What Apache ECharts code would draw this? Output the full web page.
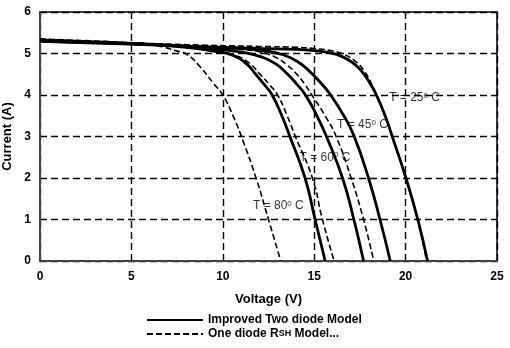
<!DOCTYPE html>
<html>
<head>
<meta charset="utf-8">
<script src="https://cdn.jsdelivr.net/npm/echarts@6/dist/echarts.min.js"></script>
<style>
  html, body { margin: 0; padding: 0; background: #fff; }
  #chart { width: 510px; height: 348px; }
</style>
</head>
<body>
<div id="chart"></div>
<script>
// axis ticks
var xTicks = [0, 5, 10, 15, 20, 25];
var yTicks = [0, 1, 2, 3, 4, 5, 6];

// Improved two diode model [voltage, current]
var two25 = [[0,5.29],[3,5.25],[6,5.21],[9,5.16],[12,5.12],[14,5.1],[15,5.07],[15.8,5.02],[16.5,4.93],[17.1,4.78],[17.6,4.57],[18.0,4.32],[18.4,4.0],[18.88,3.5],[19.27,3.0],[20.02,2.0],[20.67,1.0],[21.2,0]];
var two45 = [[0,5.30],[3,5.26],[6,5.22],[9,5.16],[11,5.12],[12.3,5.06],[13.3,4.97],[14.1,4.8],[14.8,4.55],[15.4,4.27],[15.9,4.0],[16.62,3.5],[17.19,3.0],[17.97,2.0],[18.6,1.0],[19.16,0]];
var two60 = [[0,5.32],[3,5.27],[6,5.22],[8,5.17],[10,5.09],[11.2,5.02],[12.1,4.92],[12.9,4.75],[13.55,4.5],[14.07,4.25],[14.52,4.0],[15.15,3.5],[15.67,3.0],[16.55,2.0],[17.17,1.0],[17.7,0]];
var two80 = [[0,5.33],[3,5.28],[6,5.22],[8,5.15],[9.5,5.06],[10.6,4.95],[11.3,4.75],[11.8,4.5],[12.27,4.25],[12.7,4.0],[13.23,3.5],[13.67,3.0],[14.5,2.0],[15.05,1.0],[15.6,0]];

// One diode Rsh model [voltage, current]
var one25 = [[0,5.31],[3,5.27],[6,5.24],[9,5.2],[12,5.17],[14,5.15],[15,5.12],[15.9,5.07],[16.6,4.98],[17.2,4.83],[17.7,4.6],[18.1,4.3],[18.42,4.0],[18.88,3.5],[19.26,3.0],[20.0,2.0],[20.65,1.0],[21.15,0]];
var one45 = [[0,5.31],[3,5.27],[6,5.23],[9,5.17],[11,5.1],[12,5.04],[12.8,4.93],[13.5,4.73],[14.05,4.5],[14.5,4.25],[14.87,4.0],[15.6,3.5],[16.2,3.0],[17.02,2.0],[17.7,1.0],[18.26,0]];
var one60 = [[0,5.33],[3,5.28],[6,5.22],[8,5.15],[9.5,5.06],[10.7,4.95],[11.5,4.75],[12.04,4.5],[12.55,4.25],[13.0,4.0],[13.52,3.5],[13.97,3.0],[14.9,2.0],[15.45,1.0],[16.09,0]];
var one80 = [[0,5.35],[3,5.3],[5,5.26],[6,5.22],[6.8,5.15],[7.4,5.07],[8.03,4.98],[8.76,4.68],[9.49,4.28],[10.0,4.0],[10.58,3.48],[11.1,2.9],[11.82,2.0],[12.5,1.0],[13.17,0]];

// temperature labels
var labelTemps = ['25', '45', '60', '80'];
var labelV = [19.1, 16.25, 14.2, 11.65];
var labelI = [3.93, 3.28, 2.5, 1.33];

var nameTwo = 'Improved Two diode Model';
var nameOne = 'One diode RSH Model...';

var chart = echarts.init(document.getElementById('chart'));

function solid(d) {
    return {
        name: nameTwo, type: 'line', data: d, smooth: 0.5,
        symbol: 'none', showSymbol: false, z: 3,
        lineStyle: { color: '#000', width: 2.8, type: 'solid' },
        itemStyle: { color: '#000' }
    };
}
function dashed(d) {
    return {
        name: nameOne, type: 'line', data: d, smooth: 0.5,
        symbol: 'none', showSymbol: false, z: 4,
        lineStyle: { color: '#000', width: 1.6, type: [6, 3] },
        itemStyle: { color: '#000' }
    };
}

var labelData = [];
labelTemps.forEach(function (t, i) {
    labelData.push({ value: [labelV[i], labelI[i]], name: t });
});

chart.setOption({
    backgroundColor: '#fff',
    animation: false,
    textStyle: { fontFamily: 'Liberation Sans' },
    grid: {
        left: 40, right: 13, top: 12, bottom: 87,
        containLabel: false, outerBoundsMode: 'none',
        show: true, borderColor: '#000', borderWidth: 1.5
    },
    legend: {
        data: [nameTwo, nameOne],
        orient: 'vertical',
        left: 146, top: 314, padding: 0,
        itemWidth: 56, itemHeight: 10, itemGap: 2,
        itemStyle: { opacity: 0 },
        textStyle: {
            color: '#000', fontSize: 12, fontWeight: 'bold', fontFamily: 'Liberation Sans',
            rich: { s: { fontSize: 9, fontWeight: 'bold', color: '#000', fontFamily: 'Liberation Sans' } }
        },
        formatter: function (n) {
            if (n === nameOne) return 'One diode R{s|SH} Model...';
            return n;
        }
    },
    xAxis: {
        type: 'value', min: 0, max: 25, interval: 5,
        name: 'Voltage (V)', nameLocation: 'middle', nameGap: 32,
        nameTextStyle: { color: '#000', fontSize: 13, fontWeight: 'bold' },
        axisLine: { show: true, lineStyle: { color: '#444', width: 2 } },
        axisTick: { show: false },
        axisLabel: { color: '#000', fontSize: 12, fontWeight: 'bold', margin: 10 },
        splitLine: { show: true, lineStyle: { color: '#000', width: 1.4, type: [7, 4] } }
    },
    yAxis: {
        type: 'value', min: 0, max: 6, interval: 1,
        name: 'Current (A)', nameLocation: 'middle', nameGap: 26,
        nameTextStyle: { color: '#000', fontSize: 13, fontWeight: 'bold' },
        axisLine: { show: true, lineStyle: { color: '#444', width: 2 } },
        axisTick: { show: false },
        axisLabel: { color: '#000', fontSize: 12, fontWeight: 'bold', margin: 9 },
        splitLine: { show: true, lineStyle: { color: '#000', width: 1.4, type: [7, 4] } }
    },
    series: [
        solid(two25), solid(two45), solid(two60), solid(two80),
        dashed(one25), dashed(one45), dashed(one60), dashed(one80),
        {
            name: 'labels', type: 'scatter', data: labelData,
            symbolSize: 0, z: 6, silent: true,
            label: {
                show: true, position: 'right', distance: 0,
                color: '#000', fontSize: 12, fontFamily: 'Liberation Sans',
                formatter: function (p) { return 'T = ' + p.name + '{sup|0} C'; },
                rich: {
                    sup: { fontSize: 8, color: '#000', verticalAlign: 'top', padding: [0, 0, 5, 0] }
                }
            }
        }
    ]
});
</script>
</body>
</html>
